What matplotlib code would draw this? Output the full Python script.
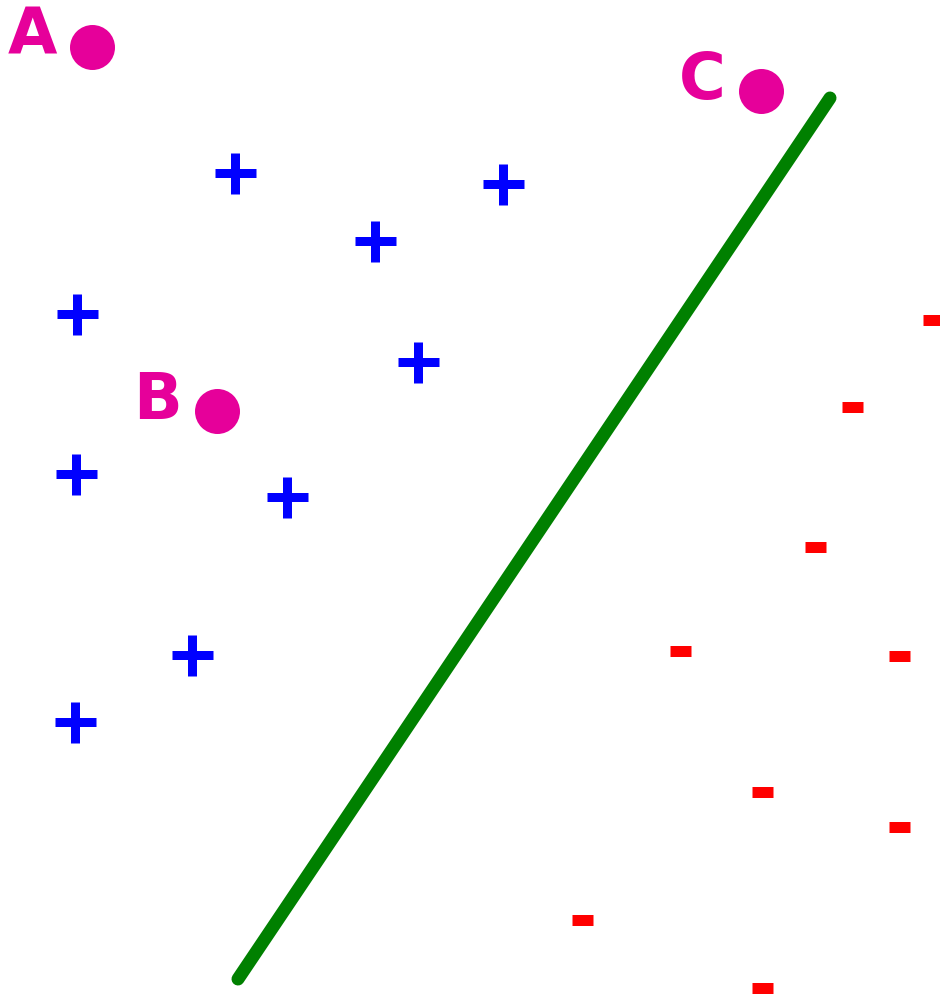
import matplotlib
matplotlib.use("Agg")
import matplotlib.pyplot as plt

# positive class (blue plus signs)
pos_x = [235, 503, 375, 77, 418, 76, 287, 192, 75]
pos_y = [174, 185, 242, 315, 363, 475, 498, 656, 723]

# negative class (red minus signs)
neg_x = [933, 852, 815, 680, 899, 762, 899, 582, 762]
neg_y = [321, 408, 548, 652, 657, 793, 828, 921, 989]

# labelled query points
pt_names = ["A", "B", "C"]
pt_x = [92, 217, 761]
pt_y = [48, 412, 92]

# separating line
line_x = [238, 830]
line_y = [980, 99]

DPI = 100
fig = plt.figure(figsize=(9.4, 9.95), dpi=DPI)
ax = fig.add_axes([0, 0, 1, 1])
ax.set_xlim(0, 940)
ax.set_ylim(995, 0)
ax.axis("off")

px = 72.0 / DPI  # points per pixel

ax.plot(line_x, line_y, color="#008000", lw=13 * px, solid_capstyle="round")

ax.plot(pos_x, pos_y, ls="none", marker="+", color="#0000ff",
        markersize=41 * px, markeredgewidth=9 * px)
ax.plot(neg_x, neg_y, ls="none", marker="_", color="#ff0000",
        markersize=21 * px, markeredgewidth=11 * px)

magenta = "#e6009a"
ax.scatter(pt_x, pt_y, s=(45 * px) ** 2, color=magenta, linewidths=0, zorder=3)
for name, x, y in zip(pt_names, pt_x, pt_y):
    ax.text(x - 35, y - 11, name, color=magenta, fontsize=46, fontweight="bold",
            ha="right", va="center")

fig.savefig("out.png", dpi=DPI)
